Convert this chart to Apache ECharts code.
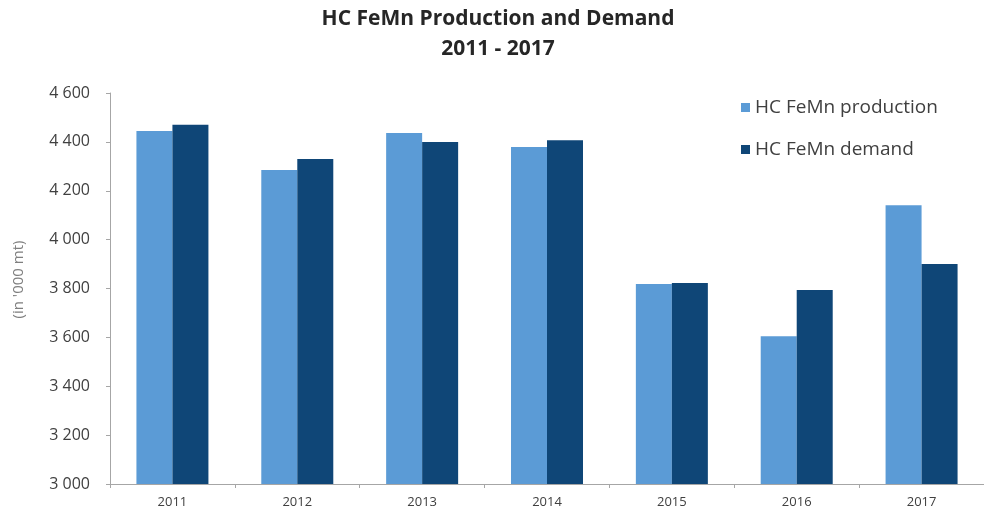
<!DOCTYPE html>
<html>
<head>
<meta charset="utf-8">
<script src="https://cdn.jsdelivr.net/npm/echarts@6/dist/echarts.min.js"></script>
<style>
  html, body { margin: 0; padding: 0; background: #ffffff; }
  #chart { width: 984px; height: 527px; }
</style>
</head>
<body>
<div id="chart"></div>
<script>
// Years on the category axis
const years = ['2011', '2012', '2013', '2014', '2015', '2016', '2017'];

// HC FeMn volumes, in thousand metric tonnes
const production = [4444, 4285, 4436, 4379, 3818, 3605, 4141];
const demand = [4470, 4330, 4400, 4407, 3822, 3794, 3900];

// Value axis range and step
const yMin = 3000;
const yMax = 4600;
const yStep = 200;

// Thousands separated by a space, e.g. "4 600"
function fmt(v) {
  return String(v).replace(/\B(?=(\d{3})+(?!\d))/g, ' ');
}

const chart = echarts.init(document.getElementById('chart'), null, { renderer: 'canvas' });

chart.setOption({
  animation: false,
  backgroundColor: '#ffffff',
  textStyle: { fontFamily: 'Open Sans, Liberation Sans, sans-serif' },
  title: {
    text: 'HC FeMn Production and Demand\n2011 - 2017',
    left: 493,
    top: -1,
    textAlign: 'center',
    textStyle: {
      fontSize: 21,
      fontWeight: 'bold',
      color: '#262626',
      lineHeight: 30,
      fontFamily: 'Open Sans, Liberation Sans, sans-serif'
    }
  },
  legend: {
    orient: 'vertical',
    left: 736,
    top: 93,
    itemWidth: 9,
    itemHeight: 9,
    itemGap: 23,
    icon: 'rect',
    textStyle: { fontSize: 19, color: '#404040', padding: [0, 0, 0, 0] },
    data: ['HC FeMn production', 'HC FeMn demand']
  },
  grid: {
    left: 110,
    right: -3,
    top: 93,
    bottom: 43,
    containLabel: false
  },
  xAxis: {
    type: 'category',
    data: years,
    axisLine: { lineStyle: { color: '#a6a6a6', width: 1 } },
    axisTick: { show: true, length: 4, lineStyle: { color: '#a6a6a6' } },
    axisLabel: { color: '#404040', fontSize: 13, margin: 12 }
  },
  yAxis: {
    type: 'value',
    min: yMin,
    max: yMax,
    interval: yStep,
    name: "(in '000 mt)",
    nameLocation: 'middle',
    nameGap: 84,
    nameTextStyle: { color: '#7f7f7f', fontSize: 15, padding: [0, 0, 0, 18] },
    axisLine: { show: true, lineStyle: { color: '#a6a6a6', width: 1 } },
    axisTick: { show: true, length: 4, lineStyle: { color: '#a6a6a6' } },
    splitLine: { show: false },
    axisLabel: {
      color: '#404040',
      fontSize: 16,
      margin: 20,
      formatter: fmt
    }
  },
  series: [
    {
      name: 'HC FeMn production',
      type: 'bar',
      data: production,
      barWidth: 36,
      barGap: '0%',
      itemStyle: { color: '#5b9bd6' }
    },
    {
      name: 'HC FeMn demand',
      type: 'bar',
      data: demand,
      barWidth: 36,
      barGap: '0%',
      itemStyle: { color: '#0f4677' }
    }
  ]
});
</script>
</body>
</html>
